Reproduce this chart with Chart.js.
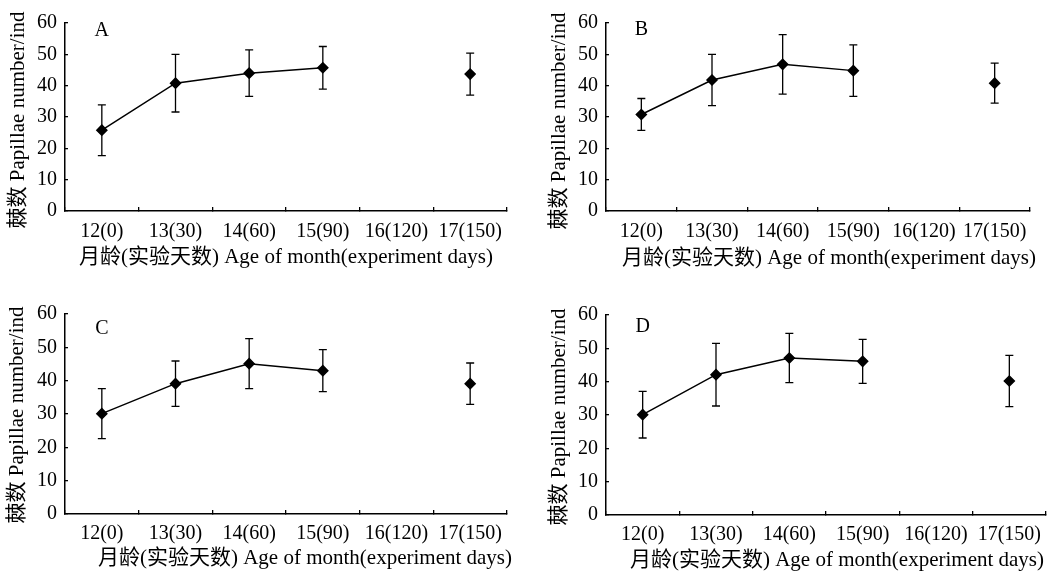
<!DOCTYPE html>
<html>
<head>
<meta charset="utf-8">
<script src="https://cdn.jsdelivr.net/npm/chart.js@4.4.1/dist/chart.umd.min.js"></script>
<style>
  body { margin: 0; background: #fff; }
  canvas { position: absolute; }
</style>
</head>
<body>
<canvas id="cA" width="527" height="290" style="left:0;top:0"></canvas>
<canvas id="cB" width="527" height="290" style="left:527px;top:0"></canvas>
<canvas id="cC" width="527" height="287" style="left:0;top:290px"></canvas>
<canvas id="cD" width="527" height="287" style="left:527px;top:290px"></canvas>
<script>
const categories = ['12(0)', '13(30)', '14(60)', '15(90)', '16(120)', '17(150)'];
const yTicks = [0, 10, 20, 30, 40, 50, 60];

// mean papillae number and error (+/-) per month, no sample at 16(120)
const meanA = [25.8, 40.8, 44, 45.7, null, 43.7];
const errA  = [8.1, 9.2, 7.4, 6.8, null, 6.7];
const meanB = [30.8, 41.8, 46.8, 44.8, null, 40.8];
const errB  = [5.1, 8.2, 9.5, 8.2, null, 6.4];
const meanC = [30.1, 39.1, 45.1, 43, null, 39.1];
const errC  = [7.5, 6.8, 7.5, 6.3, null, 6.2];
const meanD = [30.1, 42.1, 47.1, 46.1, null, 40.2];
const errD  = [7, 9.4, 7.4, 6.6, null, 7.7];

const FONT = "'Liberation Serif', 'Noto Sans CJK SC', serif";
const yTitleText = '棘数 Papillae number/ind';
const xTitleText = '月龄(实验天数) Age of month(experiment days)';

function makePanel(id, letter, means, errs, box) {
    const errorBars = {
        id: 'errorBars',
        afterDatasetsDraw(chart) {
            const ctx = chart.ctx;
            const xs = chart.scales.x, ys = chart.scales.y;
            ctx.save();
            ctx.strokeStyle = '#000';
            ctx.lineWidth = 1.3;
            means.forEach((m, i) => {
                if (m === null) return;
                const x = xs.getPixelForValue(i);
                const yTop = ys.getPixelForValue(m + errs[i]);
                const yBot = ys.getPixelForValue(m - errs[i]);
                ctx.beginPath();
                ctx.moveTo(x, yTop); ctx.lineTo(x, yBot);
                ctx.moveTo(x - 4, yTop); ctx.lineTo(x + 4, yTop);
                ctx.moveTo(x - 4, yBot); ctx.lineTo(x + 4, yBot);
                ctx.stroke();
            });
            ctx.restore();
        }
    };

    // panel letter and axis titles
    const texts = {
        id: 'panelTexts',
        afterDraw(chart) {
            const ctx = chart.ctx;
            ctx.save();
            ctx.fillStyle = '#000';
            ctx.textAlign = 'center';
            ctx.textBaseline = 'middle';
            ctx.font = '20px ' + FONT;
            ctx.fillText(letter, chart.scales.x.getPixelForValue(0), chart.scales.y.getPixelForValue(box.letterY));
            ctx.font = '21px ' + FONT;
            ctx.fillText(xTitleText, box.xTitleX, box.xTitleY);
            ctx.translate(box.yTitleX, box.yTitleY);
            ctx.rotate(-Math.PI / 2);
            ctx.fillText(yTitleText, 0, 0);
            ctx.restore();
        }
    };

    const xHeight = 58;

    new Chart(document.getElementById(id), {
        type: 'line',
        data: {
            labels: categories,
            datasets: [{
                data: means,
                borderColor: '#000',
                borderWidth: 1.5,
                pointStyle: 'rectRot',
                pointRadius: 5,
                pointBackgroundColor: '#000',
                pointBorderColor: '#000',
                spanGaps: false,
                tension: 0
            }]
        },
        options: {
            responsive: false,
            animation: false,
            layout: {
                padding: {
                    left: 0,
                    top: box.top,
                    right: box.w - box.right,
                    bottom: box.h - box.bottom - xHeight
                }
            },
            plugins: {
                legend: { display: false },
                tooltip: { enabled: false }
            },
            scales: {
                x: {
                    offset: true,
                    ticks: {
                        color: '#000',
                        font: { family: FONT, size: 20 },
                        padding: box.xTickPad,
                        maxRotation: 0,
                        autoSkip: false
                    },
                    grid: { offset: true, drawOnChartArea: false, tickLength: -4, color: '#000', lineWidth: 1.3 },
                    border: { color: '#000', width: 1.5 },
                    afterFit: (s) => { s.height = xHeight; }
                },
                y: {
                    min: 0,
                    max: 60,
                    afterBuildTicks: (s) => { s.ticks = yTicks.map(v => ({ value: v })); },
                    ticks: {
                        color: '#000',
                        font: { family: FONT, size: 20 },
                        padding: 11
                    },
                    grid: { drawOnChartArea: false, tickLength: -3, color: '#000', lineWidth: 1.3 },
                    border: { color: '#000', width: 1.5 },
                    afterFit: (s) => { s.width = box.left; }
                }
            }
        },
        plugins: [errorBars, texts]
    });
}

makePanel('cA', 'A', meanA, errA, { w: 527, h: 290, left: 65, top: 17, right: 507, bottom: 211, xTickPad: 13,
    letterY: 57.5, xTitleX: 286, xTitleY: 257, yTitleX: 18, yTitleY: 120 });
makePanel('cB', 'B', meanB, errB, { w: 527, h: 290, left: 79, top: 17, right: 503, bottom: 211, xTickPad: 13,
    letterY: 58, xTitleX: 302, xTitleY: 258, yTitleX: 32, yTitleY: 121 });
makePanel('cC', 'C', meanC, errC, { w: 527, h: 287, left: 65, top: 24, right: 507, bottom: 224, xTickPad: 12,
    letterY: 55.5, xTitleX: 305, xTitleY: 268, yTitleX: 17, yTitleY: 125 });
makePanel('cD', 'D', meanD, errD, { w: 527, h: 287, left: 79, top: 25, right: 519, bottom: 225, xTickPad: 12,
    letterY: 56.5, xTitleX: 310, xTitleY: 270, yTitleX: 32, yTitleY: 127 });
</script>
</body>
</html>
